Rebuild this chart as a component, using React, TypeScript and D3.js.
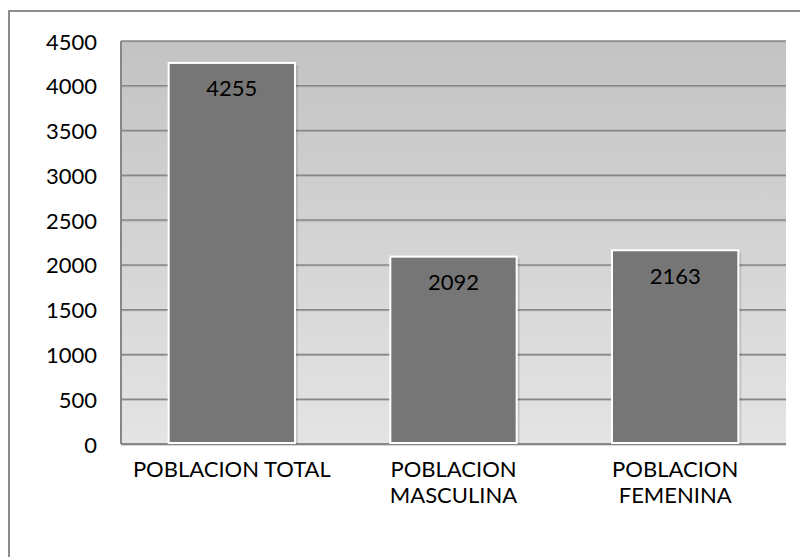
import React from "react";
import * as d3 from "d3";

const categories: string[][] = [["POBLACION TOTAL"], ["POBLACION", "MASCULINA"], ["POBLACION", "FEMENINA"]];
const values: number[] = [4255, 2092, 2163];
const yTicks: number[] = [0, 500, 1000, 1500, 2000, 2500, 3000, 3500, 4000, 4500];

export default function App() {
  const W = 800, H = 557;
  const left = 121, right = 786, top = 41, bottom = 444;
  const x = d3.scaleBand<number>().domain(d3.range(values.length)).range([left, right]).paddingInner(0.43).paddingOuter(0.215);
  const y = d3.scaleLinear().domain([0, 4500]).range([bottom, top]);
  const font = "Lato, 'Open Sans', sans-serif";
  const fs = 22;
  return (
    <svg width={W} height={H} style={{ position: "absolute", left: 0, top: 0 }}>
      <defs>
        <linearGradient id="bg" x1="0" y1="0" x2="0" y2="1">
          <stop offset="0" stopColor="#c3c3c3" />
          <stop offset="1" stopColor="#e4e4e4" />
        </linearGradient>
      </defs>
      <rect x={0} y={0} width={W} height={H} fill="#fff" />
      <rect x={9} y={11} width={W + 10} height={H + 10} fill="#fff" stroke="#8c8c8c" strokeWidth={2} />
      <rect x={left} y={top} width={right - left} height={bottom - top} fill="url(#bg)" />
      {yTicks.map((t) => (
        <g key={t}>
          <line x1={left} x2={right} y1={y(t) + 1} y2={y(t) + 1} stroke="#b0b0b0" strokeWidth={1} />
          <line x1={left} x2={right} y1={y(t)} y2={y(t)} stroke="#878787" strokeWidth={1.5} />
          <text x={97} y={y(t)} textAnchor="end" dominantBaseline="central" fontFamily={font} fontSize={fs} fill="#000">{t}</text>
        </g>
      ))}
      <line x1={left} x2={left} y1={top} y2={bottom} stroke="#878787" strokeWidth={2} />
      <line x1={left} x2={right} y1={bottom} y2={bottom} stroke="#878787" strokeWidth={2} />
      {values.map((v, i) => (
        <g key={i}>
          <rect x={x(i)! + 3} y={y(v) + 2} width={x.bandwidth()} height={bottom - y(v) - 2} fill="#000" opacity={0.12} />
          <rect x={x(i)!} y={y(v)} width={x.bandwidth()} height={bottom - y(v) - 1} fill="#767676" stroke="#fff" strokeWidth={2} />
          <text x={x(i)! + x.bandwidth() / 2} y={y(v) + 25} textAnchor="middle" dominantBaseline="central" fontFamily={font} fontSize={fs} fill="#000">{v}</text>
          {categories[i].map((line, j) => (
            <text key={j} x={x(i)! + x.bandwidth() / 2} y={468 + j * 26} textAnchor="middle" dominantBaseline="central" fontFamily={font} fontSize={fs} fill="#000">{line}</text>
          ))}
        </g>
      ))}
    </svg>
  );
}
